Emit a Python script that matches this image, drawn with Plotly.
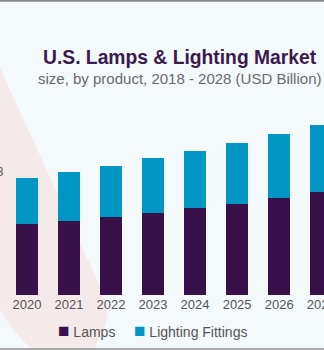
import plotly.graph_objects as go

# U.S. lamps & lighting market size by product (USD Billion)
years = [str(y) for y in range(2018, 2029)]
lamps = [9.74, 10.21, 10.68, 11.17, 11.78, 12.38, 13.14, 13.79, 14.65, 15.51, 16.38]
fittings = [6.27, 6.57, 6.95, 7.40, 7.70, 8.26, 8.61, 9.12, 9.62, 10.16, 10.72]
series_names = ["Lamps", "Lighting Fittings"]
labelled_year = "2019"

LAMP_COLOR = "#38104a"
FITTING_COLOR = "#0196c4"
BG = "#f4f9fc"
BLOB = "#f5eaea"

W, H = 324, 350
M_L, M_R, M_T, M_B = 0, 0, 95, 55
PW = W - M_L - M_R
PH = H - M_T - M_B
X_RANGE = [1.36, 9.067]
Y_RANGE = [0, 30.2]


def px(x):
    return (x - M_L) / PW


def py(y):
    return (H - M_B - y) / PH


def path(cmds):
    out = []
    for c in cmds:
        if isinstance(c, str):
            out.append(c)
        else:
            out.append(f"{px(c[0]):.4f},{py(c[1]):.4f}")
    return " ".join(out)


fig = go.Figure()
fig.add_trace(go.Bar(x=years, y=lamps, name=series_names[0],
                     marker=dict(color=LAMP_COLOR, line=dict(width=0))))
fig.add_trace(go.Bar(x=years, y=fittings, name=series_names[1],
                     marker=dict(color=FITTING_COLOR, line=dict(width=0))))

# decorative backdrop shape and frame lines
blob = path(["M", (0, 68), "L", (103, 293), "Q", (113, 315), (100, 336),
             "L", (93, 352), "L", (36, 352), "Q", (15, 336), (0, 310), "Z"])
shapes = [
    dict(type="path", xref="paper", yref="paper", path=blob,
         fillcolor=BLOB, line=dict(width=0), layer="below"),
    dict(type="line", xref="paper", yref="paper", x0=px(0), x1=px(W),
         y0=py(0.8), y1=py(0.8), line=dict(color="#8a8a8a", width=2)),
    dict(type="line", xref="paper", yref="paper", x0=px(0), x1=px(W),
         y0=py(349), y1=py(349), line=dict(color="#a8a8a8", width=2)),
]

# value label over the 2019 bar; its anchor sits left of the visible x range,
# so place it in paper units converted from the category index and the total
i = years.index(labelled_year)
total = lamps[i] + fittings[i]
label_x = (i - X_RANGE[0]) / (X_RANGE[1] - X_RANGE[0])
label_y = (total - Y_RANGE[0]) / (Y_RANGE[1] - Y_RANGE[0])


def legend_item(color, name):
    return (f"<span style='color:{color};font-size:19px'>■</span>"
            f" {name}")


annotations = [
    dict(text="<b>U.S. Lamps & Lighting Market</b>", xref="paper", yref="paper",
         x=px(179.5), y=py(57), xanchor="center", yanchor="middle", showarrow=False,
         font=dict(family="Liberation Sans", size=19.3, color="#3b1a4f")),
    dict(text="size, by product, 2018 - 2028 (USD Billion)", xref="paper", yref="paper",
         x=px(179), y=py(78), xanchor="center", yanchor="middle", showarrow=False,
         font=dict(family="Liberation Sans", size=15, color="#6a6a6a")),
    dict(text=f"{total:.2f}", x=label_x, y=label_y, xref="paper", yref="paper",
         xanchor="center", yanchor="bottom", yshift=3, xshift=3, showarrow=False,
         font=dict(family="Liberation Sans", size=13, color="#555555")),
    dict(text=legend_item(LAMP_COLOR, series_names[0]),
         xref="paper", yref="paper", x=px(55.5), y=py(330), xanchor="left",
         yanchor="middle", showarrow=False,
         font=dict(family="Liberation Sans", size=14, color="#555555")),
    dict(text=legend_item(FITTING_COLOR, series_names[1]),
         xref="paper", yref="paper", x=px(132), y=py(330), xanchor="left",
         yanchor="middle", showarrow=False,
         font=dict(family="Liberation Sans", size=14, color="#555555")),
]

fig.update_layout(
    width=W, height=H,
    margin=dict(l=M_L, r=M_R, t=M_T, b=M_B, pad=0),
    paper_bgcolor=BG, plot_bgcolor="rgba(0,0,0,0)",
    barmode="stack", bargap=0.47,
    showlegend=False,
    shapes=shapes, annotations=annotations,
    font=dict(family="Liberation Sans", color="#555555"),
    xaxis=dict(type="category", range=X_RANGE, showgrid=False,
               showline=False, zeroline=False, ticks="", automargin=False,
               tickfont=dict(size=13, color="#555555")),
    yaxis=dict(visible=False, range=Y_RANGE, automargin=False),
)

fig.write_html("out.html")
